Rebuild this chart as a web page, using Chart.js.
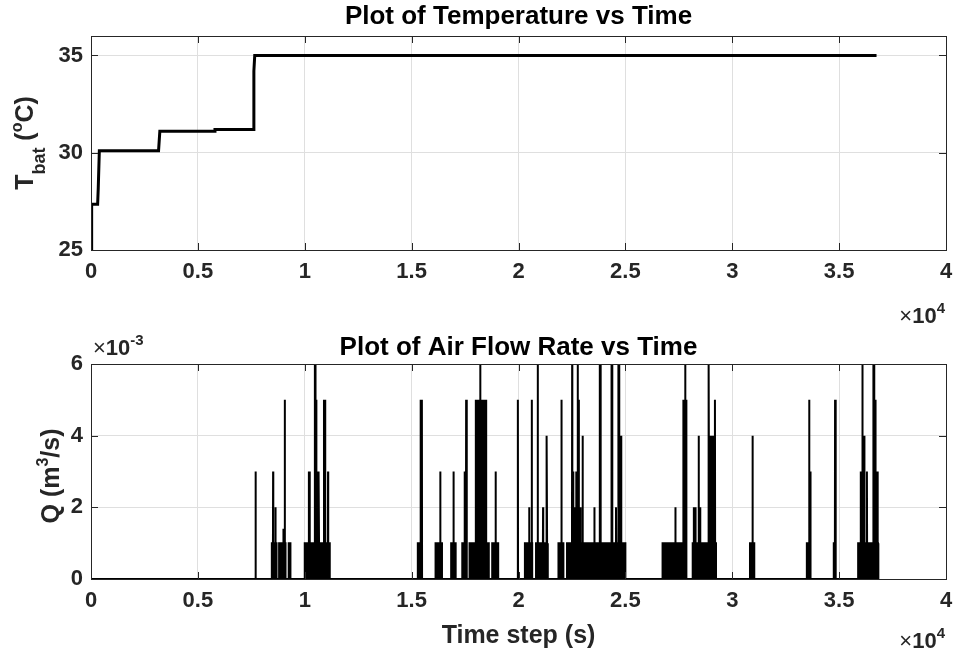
<!DOCTYPE html>
<html>
<head>
<meta charset="utf-8">
<title>Temperature and air flow rate vs time</title>
<script src="https://cdn.jsdelivr.net/npm/chart.js@4.4.0/dist/chart.umd.min.js"></script>
<style>
body{margin:0;background:#fff;}
#wrap{position:relative;width:956px;height:657px;}
canvas{position:absolute;left:0;}
#c1{top:0;}
#c2{top:330px;}
</style>
</head>
<body>
<div id="wrap">
<canvas id="c1" width="956" height="330"></canvas>
<canvas id="c2" width="956" height="327"></canvas>
</div>
<script>
// battery temperature, vertices of the step curve (s, degC)
var tempTime  = [0, 30, 310, 340, 390, 3160, 3220, 5790, 5800, 7590, 7620, 7660, 36750];
var tempValue = [25, 27.35, 27.35, 28.2, 30.1, 30.1, 31.1, 31.1, 31.2, 31.2, 34.2, 35, 35];
var tempTicks = [25, 30, 35];

// air flow rate, in units of 1e-3 m3/s
// spans where the flow chatters between 0 and 1
var flowBlockStart = [8460, 8800, 9250, 10000, 15290, 16120, 16850, 17370, 17710, 18770, 20300, 20820, 21870, 22270, 26740, 28150, 30830, 33490, 34750, 35890];
var flowBlockEnd   = [8680, 9100, 9330, 11170, 15370, 16420, 17060, 17590, 18610, 19050, 20640, 21370, 22100, 25000, 27680, 29240, 31030, 33670, 34850, 36820];
// single peaks
var flowSpikeTime = [7700, 8520, 8630, 9000, 9065, 9300, 10190, 10230, 10470, 10500, 10540, 10620, 10660, 10900, 10950, 11090,
  15420, 15480, 16340, 16960, 17480, 17550, 18000, 18080, 18160, 18210, 18260, 18300, 18350, 18420, 18480, 18930,
  19970, 20500, 20620, 20900, 21150, 21300, 21330, 22010, 22510, 22560, 22620, 22700, 22770, 22820, 22900, 23000,
  23550, 23800, 23840, 24340, 24380, 24560, 24670, 24710, 24800, 27340, 27710, 27760, 27800, 27850, 28200, 28280,
  28430, 28500, 28880, 28910, 28960, 29050, 29120, 29190, 30950, 33600, 33650, 34810, 36010, 36090, 36130, 36180,
  36300, 36600, 36640, 36700, 36750, 36800];
var flowSpikeValue = [3, 3, 2, 1.4, 5, 1, 3, 3, 6, 6, 5, 3, 3, 5, 5, 3,
  5, 5, 3, 3, 3, 5, 5, 5, 5, 6, 5, 4, 5, 5, 5, 3,
  5, 2, 5, 6, 2, 4, 4, 5, 6, 3, 2, 3, 6, 5, 2, 4,
  2, 6, 6, 6, 6, 2, 6, 6, 4, 2, 5, 5, 6, 5, 2, 2,
  4, 2, 6, 6, 4, 4, 4, 5, 4, 5, 3, 5, 3, 6, 4, 4,
  3, 6, 6, 5, 3, 3];
var flowEnd = 36850;
var flowTicks = [0, 2, 4, 6];

var FONT = '"Liberation Sans", Arial, Helvetica, sans-serif';
var AXIS = '#262626';
var GRID = '#dfdfdf';

var tempPoints = tempTime.map(function(t, i){ return {x: t, y: tempValue[i]}; });

function inBlock(t){
  for (var i = 0; i < flowBlockStart.length; i++) {
    if (t >= flowBlockStart[i] && t <= flowBlockEnd[i]) return 1;
  }
  return 0;
}
var flowPoints = [{x: 0, y: 0}];
for (var i = 0; i < flowBlockStart.length; i++) {
  flowPoints.push({x: flowBlockStart[i], y: 0, k: 0}, {x: flowBlockStart[i], y: 1, k: 1});
  flowPoints.push({x: flowBlockEnd[i], y: 1, k: 2}, {x: flowBlockEnd[i], y: 0, k: 3});
}
for (var j = 0; j < flowSpikeTime.length; j++) {
  var t = flowSpikeTime[j], b = inBlock(t);
  flowPoints.push({x: t - 8, y: b}, {x: t, y: flowSpikeValue[j]}, {x: t + 8, y: b});
}
flowPoints.push({x: flowEnd, y: 0});
flowPoints.sort(function(a, b){ return a.x - b.x || (a.k || 0) - (b.k || 0); });

function drawParts(ctx, parts, x, y, align){
  var total = 0, widths = [];
  parts.forEach(function(p){
    ctx.font = (p.bold === false ? 'normal ' : 'bold ') + p.s + 'px ' + FONT;
    var w = ctx.measureText(p.t).width;
    widths.push(w); total += w;
  });
  var cx = align === 'center' ? x - total / 2 : (align === 'right' ? x - total : x);
  ctx.textAlign = 'left';
  ctx.textBaseline = 'alphabetic';
  parts.forEach(function(p, k){
    ctx.font = (p.bold === false ? 'normal ' : 'bold ') + p.s + 'px ' + FONT;
    ctx.fillText(p.t, cx, y + (p.dy || 0));
    cx += widths[k];
  });
}

// box, inward ticks, title over the plot, y label with sub/superscripts, x10^n notes
function makeDecor(cfg){
  return {
    id: 'decor',
    afterDraw: function(chart){
      var ctx = chart.ctx, a = chart.chartArea, sx = chart.scales.x, sy = chart.scales.y;
      ctx.save();
      ctx.strokeStyle = AXIS;
      ctx.lineWidth = 1;
      ctx.beginPath();
      sx.ticks.forEach(function(tk){
        var px = Math.round(sx.getPixelForValue(tk.value)) + 0.5;
        ctx.moveTo(px, a.bottom); ctx.lineTo(px, a.bottom - 7);
        ctx.moveTo(px, a.top); ctx.lineTo(px, a.top + 7);
      });
      sy.ticks.forEach(function(tk){
        var py = Math.round(sy.getPixelForValue(tk.value)) + 0.5;
        ctx.moveTo(a.left, py); ctx.lineTo(a.left + 7, py);
        ctx.moveTo(a.right, py); ctx.lineTo(a.right - 7, py);
      });
      ctx.stroke();
      ctx.strokeRect(Math.round(a.left) + 0.5, Math.round(a.top) + 0.5, Math.round(a.right - a.left), Math.round(a.bottom - a.top));

      ctx.fillStyle = '#000';
      drawParts(ctx, [{t: cfg.title, s: 26}], (a.left + a.right) / 2, cfg.titleY, 'center');

      ctx.fillStyle = AXIS;
      ctx.save();
      ctx.translate(cfg.yLabel.x, cfg.yLabel.y);
      ctx.rotate(-Math.PI / 2);
      drawParts(ctx, cfg.yLabel.parts, 0, 0, 'center');
      ctx.restore();
      cfg.exps.forEach(function(e){ drawParts(ctx, e.parts, e.x, e.y, e.align); });
      ctx.restore();
    }
  };
}

function tickFont(){ return {family: FONT, size: 22, weight: 'bold'}; }

function xScale(height, withTitle){
  var s = {
    type: 'linear', min: 0, max: 40000,
    ticks: {stepSize: 5000, color: AXIS, font: tickFont(), padding: 9, maxRotation: 0,
      callback: function(v){ return String(v / 10000); }},
    grid: {color: GRID, drawTicks: false},
    border: {display: false},
    afterFit: function(sc){ sc.height = height; sc.paddingLeft = 0; sc.paddingRight = 0; }
  };
  if (withTitle) {
    s.title = {display: true, text: 'Time step (s)', color: AXIS,
      font: {family: FONT, size: 25, weight: 'bold'}, padding: {top: 0, bottom: 6}};
  }
  return s;
}

function yScale(min, max, tickValues){
  return {
    min: min, max: max,
    ticks: {color: AXIS, font: tickFont(), padding: 8,
      callback: function(v){ return String(v); }},
    afterBuildTicks: function(sc){
      sc.ticks = tickValues.map(function(v){ return {value: v}; });
    },
    grid: {color: GRID, drawTicks: false},
    border: {display: false},
    afterFit: function(sc){ sc.width = 91; sc.paddingTop = 0; sc.paddingBottom = 0; }
  };
}

new Chart(document.getElementById('c1'), {
  type: 'line',
  data: {datasets: [{data: tempPoints, borderColor: '#000', borderWidth: 3, pointRadius: 0, fill: false, tension: 0}]},
  options: {
    responsive: false, animation: false,
    layout: {padding: {left: 0, right: 10, top: 36, bottom: 40}},
    plugins: {legend: {display: false}, tooltip: {enabled: false}, title: {display: false}},
    scales: {x: xScale(40, false), y: yScale(25, 36, tempTicks)}
  },
  plugins: [makeDecor({
    title: 'Plot of Temperature vs Time', titleY: 24,
    yLabel: {x: 33, y: 143, parts: [{t: 'T', s: 25}, {t: 'bat', s: 18, dy: 12}, {t: ' (', s: 25}, {t: 'o', s: 16, dy: -11}, {t: 'C)', s: 25}]},
    exps: [{x: 945, y: 323, align: 'right', parts: [{t: '\u00d7', s: 22, bold: false}, {t: '10', s: 22}, {t: '4', s: 15, dy: -10}]}]
  })]
});

new Chart(document.getElementById('c2'), {
  type: 'line',
  data: {datasets: [{data: flowPoints, borderColor: '#000', backgroundColor: '#000', borderWidth: 2, pointRadius: 0, fill: 'origin', tension: 0}]},
  options: {
    responsive: false, animation: false,
    layout: {padding: {left: 0, right: 10, top: 34, bottom: 0}},
    plugins: {legend: {display: false}, tooltip: {enabled: false}, title: {display: false}},
    scales: {x: xScale(78, true), y: yScale(0, 6, flowTicks)}
  },
  plugins: [makeDecor({
    title: 'Plot of Air Flow Rate vs Time', titleY: 25,
    yLabel: {x: 59, y: 146, parts: [{t: 'Q (m', s: 25}, {t: '3', s: 16, dy: -11}, {t: '/s)', s: 25}]},
    exps: [
      {x: 945, y: 318, align: 'right', parts: [{t: '\u00d7', s: 22, bold: false}, {t: '10', s: 22}, {t: '4', s: 15, dy: -10}]},
      {x: 93, y: 25, align: 'left', parts: [{t: '\u00d7', s: 22, bold: false}, {t: '10', s: 22}, {t: '-3', s: 15, dy: -10}]}
    ]
  })]
});
</script>
</body>
</html>
